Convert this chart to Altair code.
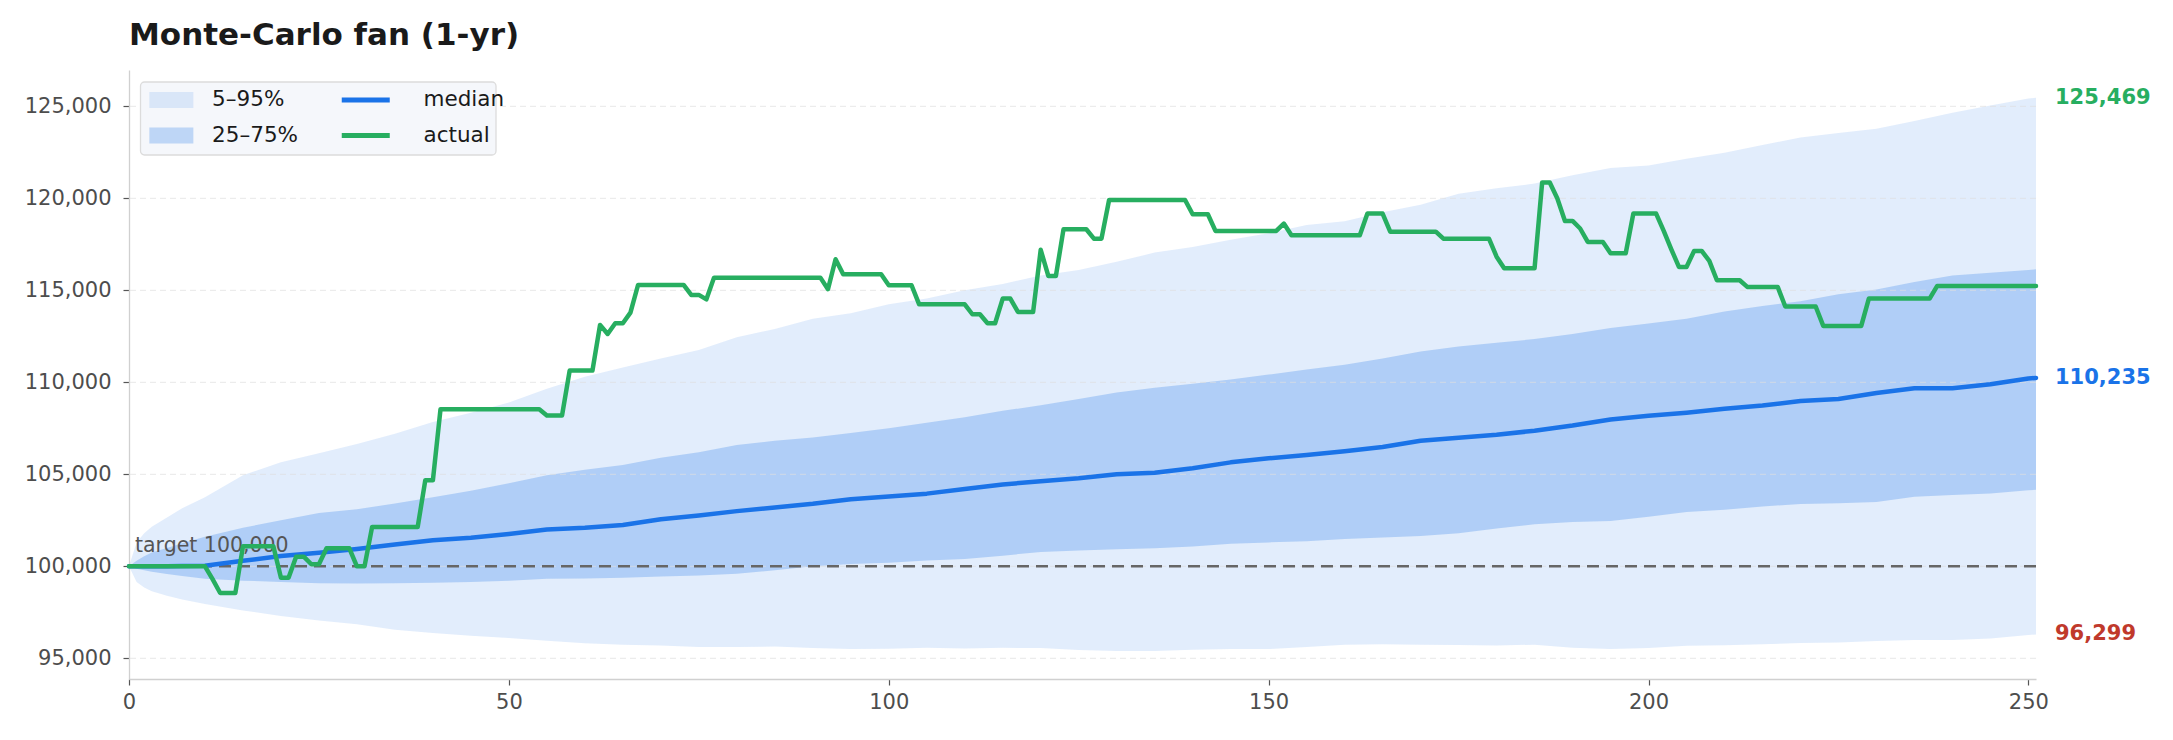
import altair as alt
import pandas as pd

title_text = "Monte-Carlo fan (1-yr)"

# trading-day positions at which the simulated percentiles were read
band_day = [0, 1, 2, 3, 5, 7, 10, 15, 20, 25, 30, 35, 40, 45, 50, 55, 60, 65, 70, 75,
            80, 85, 90, 95, 100, 105, 110, 115, 120, 125, 130, 135, 140, 145, 150, 155,
            160, 165, 170, 175, 180, 185, 190, 195, 200, 205, 210, 215, 220, 225, 230,
            235, 240, 245, 250, 251]

p95 = [100000, 101300, 101800, 102150, 102650, 103150, 103750, 104950, 105650, 106150,
       106650, 107200, 107850, 108350, 108900, 109650, 110300, 110800, 111300, 111750,
       112450, 112900, 113450, 113750, 114250, 114550, 115000, 115350, 115800, 116100,
       116550, 117050, 117350, 117750, 118100, 118550, 118750, 119250, 119650, 120250,
       120550, 120800, 121250, 121650, 121780, 122150, 122480, 122900, 123300, 123550,
       123780, 124200, 124650, 125050, 125420, 125469]

p75 = [100000, 100300, 100550, 100750, 101000, 101250, 101600, 102100, 102500, 102900,
       103100, 103420, 103750, 104100, 104520, 104950, 105250, 105500, 105900, 106200,
       106600, 106820, 107000, 107250, 107500, 107800, 108100, 108450, 108750, 109100,
       109450, 109700, 109920, 110150, 110420, 110700, 110950, 111300, 111680, 111950,
       112150, 112350, 112620, 112950, 113200, 113450, 113850, 114150, 114400, 114780,
       115050, 115450, 115800, 115950, 116100, 116150]

p50 = [100000, 100000, 100000, 100000, 100000, 100010, 100030, 100300, 100560, 100740,
       100940, 101180, 101420, 101550, 101760, 102000, 102100, 102250, 102560, 102760,
       103000, 103200, 103400, 103650, 103800, 103950, 104200, 104450, 104620, 104780,
       105000, 105080, 105330, 105650, 105870, 106050, 106250, 106480, 106820, 106990,
       107150, 107370, 107650, 107980, 108180, 108350, 108560, 108740, 108980, 109090,
       109420, 109680, 109680, 109900, 110210, 110235]

p25 = [100000, 99870, 99780, 99700, 99580, 99470, 99330, 99220, 99150, 99080,
       99070, 99080, 99100, 99150, 99220, 99320, 99340, 99380, 99450, 99500,
       99600, 99780, 100000, 100120, 100200, 100320, 100400, 100580, 100780, 100860,
       100930, 100980, 101080, 101220, 101300, 101360, 101480, 101560, 101650, 101800,
       102050, 102280, 102410, 102460, 102700, 102950, 103080, 103250, 103390, 103430,
       103500, 103780, 103880, 103960, 104130, 104160]

p5 = [100000, 99150, 98850, 98650, 98400, 98200, 97950, 97600, 97300, 97050,
      96850, 96550, 96380, 96230, 96100, 95950, 95820, 95740, 95700, 95620,
      95610, 95640, 95560, 95500, 95520, 95580, 95530, 95570, 95560, 95450,
      95400, 95400, 95460, 95500, 95500, 95620, 95740, 95760, 95730, 95720,
      95700, 95740, 95580, 95500, 95560, 95680, 95710, 95760, 95830, 95860,
      95940, 95990, 96000, 96080, 96260, 96299]

# realised equity, one value per trading day (day 0 .. 251)
actual = [
    100000, 100000, 100000, 100000, 100000, 100000, 100000, 100000, 100000, 100000,
    100000, 99300, 98550, 98550, 98550, 101090, 101090, 101090, 101090, 101090,
    99380, 99380, 100525, 100525, 100110, 100110, 100980, 100980, 100980, 100980,
    100000, 100000, 102140, 102140, 102140, 102140, 102140, 102140, 102140, 104680,
    104680, 108540, 108540, 108540, 108540, 108540, 108540, 108540, 108540, 108540,
    108540, 108540, 108540, 108540, 108540, 108200, 108200, 108200, 110640, 110640,
    110640, 110640, 113120, 112630, 113210, 113210, 113790, 115290, 115290, 115290,
    115290, 115290, 115290, 115290, 114750, 114750, 114510, 115690, 115690, 115690,
    115690, 115690, 115690, 115690, 115690, 115690, 115690, 115690, 115690, 115690,
    115690, 115690, 115060, 116690, 115870, 115870, 115870, 115870, 115870, 115870,
    115275, 115275, 115275, 115275, 114240, 114240, 114240, 114240, 114240, 114240,
    114240, 113700, 113700, 113210, 113210, 114550, 114550, 113825, 113825, 113825,
    117200, 115780, 115780, 118320, 118320, 118320, 118320, 117810, 117810, 119910,
    119910, 119910, 119910, 119910, 119910, 119910, 119910, 119910, 119910, 119910,
    119135, 119135, 119135, 118230, 118230, 118230, 118230, 118230, 118230, 118230,
    118230, 118230, 118630, 117990, 117990, 117990, 117990, 117990, 117990, 117990,
    117990, 117990, 117990, 119170, 119170, 119170, 118190, 118190, 118190, 118190,
    118190, 118190, 118190, 117810, 117810, 117810, 117810, 117810, 117810, 117810,
    116830, 116200, 116200, 116200, 116200, 116200, 120860, 120860, 119990, 118770,
    118770, 118360, 117630, 117630, 117630, 117015, 117015, 117015, 119170, 119170,
    119170, 119170, 118230, 117230, 116270, 116270, 117140, 117140, 116600, 115550,
    115550, 115550, 115550, 115185, 115185, 115185, 115185, 115185, 114120, 114120,
    114120, 114120, 114120, 113065, 113065, 113065, 113065, 113065, 113065, 114550,
    114550, 114550, 114550, 114550, 114550, 114550, 114550, 114550, 115240, 115240,
    115240, 115240, 115240, 115240, 115240, 115240, 115240, 115240, 115240, 115240,
    115240, 115240,
]
actual_day = list(range(len(actual)))

target = 100000
x_ticks = [0, 50, 100, 150, 200, 250]
y_ticks = [95000, 100000, 105000, 110000, 115000, 120000, 125000]
x_limits = [0, 251]
y_limits = [93875, 126975]

band_names = ["5–95%", "25–75%"]
band_fills = ["rgba(26,115,232,0.125)", "rgba(26,115,232,0.25)"]
line_names = ["median", "actual"]

BLUE = "#1a73e8"
GREEN = "#27ae60"
RED = "#c0392b"
FONT = "DejaVu Sans"

# ---- data frames ----
bands = pd.DataFrame({"day": band_day, "p5": p5, "p25": p25, "p50": p50,
                      "p75": p75, "p95": p95})
outer_df = bands.assign(band=band_names[0])
inner_df = bands.assign(band=band_names[1])
median_df = bands.assign(series=line_names[0])
actual_df = pd.DataFrame({"day": actual_day, "value": actual, "series": line_names[1]})
grid_df = pd.DataFrame({"v": y_ticks})
target_df = pd.DataFrame({"day": [band_day[0]], "v": [target],
                          "label": [f"target {target:,}"]})
end_p95 = pd.DataFrame({"day": [band_day[-1]], "v": [p95[-1]]})
end_p50 = pd.DataFrame({"day": [band_day[-1]], "v": [p50[-1]]})
end_p5 = pd.DataFrame({"day": [band_day[-1]], "v": [p5[-1]]})
box_df = pd.DataFrame({"k": [0]})

xs = alt.Scale(domain=x_limits, nice=False, zero=False)
ys = alt.Scale(domain=y_limits, nice=False, zero=False)
x_axis = alt.Axis(values=x_ticks, grid=False, title=None, format="d", labelFlush=False)
y_axis = alt.Axis(values=y_ticks, grid=False, title=None, format=",.0f", labelFlush=False)


def X(field="day"):
    return alt.X(f"{field}:Q", scale=xs, axis=x_axis, title=None)


def Y(field):
    return alt.Y(f"{field}:Q", scale=ys, axis=y_axis, title=None)


common_legend = dict(
    title=None, orient="none", direction="vertical", padding=0,
    rowPadding=12.5, symbolSize=256, symbolOffset=14,
    labelFont=FONT, labelFontSize=21.5, labelColor="#1a1a1a", labelLimit=400,
    legendY=19.25,
)
band_legend = alt.Legend(symbolType="M-2.75,-1H2.75V1H-2.75Z", legendX=17.6,
                         labelOffset=30, symbolStrokeWidth=0,
                         symbolStrokeColor="transparent", symbolOpacity=1,
                         **common_legend)
line_legend = alt.Legend(symbolType="M-3,0H3", legendX=212, labelOffset=47,
                         symbolStrokeWidth=5, **common_legend)

fill_enc = alt.Fill("band:N", scale=alt.Scale(domain=band_names, range=band_fills),
                    legend=band_legend)
stroke_enc = alt.Stroke("series:N", scale=alt.Scale(domain=line_names, range=[BLUE, GREEN]),
                        legend=line_legend)

outer = alt.Chart(outer_df).mark_area().encode(
    x=X(), y=Y("p5"), y2="p95:Q", fill=fill_enc)
inner = alt.Chart(inner_df).mark_area().encode(
    x=X(), y=Y("p25"), y2="p75:Q", fill=fill_enc)
grid = alt.Chart(grid_df).mark_rule(color="#dedede", strokeDash=[6, 4],
                                    strokeWidth=1, opacity=0.7).encode(y=Y("v"))
legend_box = alt.Chart(box_df).mark_rect(
    fill="#f5f7fb", stroke="#dcdcdc", strokeWidth=1.3, cornerRadius=4).encode(
    x=alt.value(11.5), x2=alt.value(367), y=alt.value(12), y2=alt.value(85))
target_rule = alt.Chart(target_df).mark_rule(color="#666666", strokeDash=[12, 7],
                                             strokeWidth=2.4).encode(y=Y("v"))
target_text = alt.Chart(target_df).mark_text(
    align="left", baseline="alphabetic", dx=6, dy=-14, fontSize=20.5,
    font=FONT, color="#555555").encode(x=X(), y=Y("v"), text="label:N")
median_line = alt.Chart(median_df).mark_line(
    strokeWidth=4.5, strokeCap="round", strokeJoin="round").encode(
    x=X(), y=Y("p50"), stroke=stroke_enc)
actual_line = alt.Chart(actual_df).mark_line(
    strokeWidth=4.5, strokeCap="round", strokeJoin="round").encode(
    x=X(), y=Y("value"), stroke=stroke_enc)


def end_label(df, col):
    return alt.Chart(df).mark_text(
        align="left", baseline="middle", dx=19, fontSize=21, fontWeight="bold",
        font=FONT, color=col).encode(
        x=X(), y=Y("v"), text=alt.Text("v:Q", format=",.0f"))


chart = alt.layer(
    outer, inner, grid, legend_box, target_rule, target_text, median_line, actual_line,
    end_label(end_p95, GREEN), end_label(end_p50, BLUE), end_label(end_p5, RED),
).properties(
    width=1907,
    height=609,
    padding={"left": 129, "top": 70, "right": 137, "bottom": 61},
    autosize=alt.AutoSizeParams(type="none"),
    title=alt.TitleParams(title_text, anchor="start", frame="group", fontSize=31,
                          font=FONT, fontWeight="bold", color="#1a1a1a",
                          baseline="alphabetic", offset=-6),
).configure(
    font=FONT,
).configure_view(
    stroke=None,
).configure_axis(
    domainColor="#d0d0d0", domainWidth=1.3, tickColor="#555555", tickWidth=1.2,
    tickSize=6, labelFont=FONT, labelFontSize=21, labelColor="#4d4d4d",
).configure_axisY(
    labelPadding=12,
).configure_axisX(
    labelPadding=6,
)

chart.save("out.html", embed_options={"renderer": "svg", "actions": False})
